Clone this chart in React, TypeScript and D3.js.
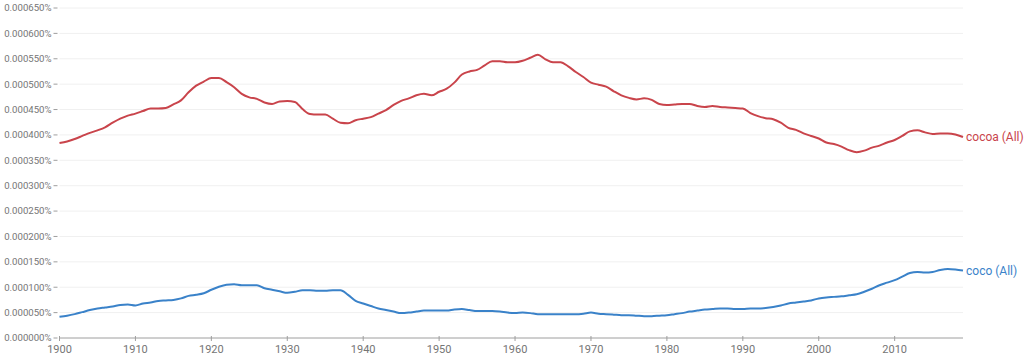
import React from "react";
import * as d3 from "d3";

const years: number[] = d3.range(1900, 2020);

// values in units of 0.000001 %
const cocoa: number[] = [
  384, 387, 392, 398, 404, 409, 415, 424, 432, 438,
  442, 447, 452, 452, 453, 460, 468, 484, 497, 505,
  512, 512, 504, 494, 481, 474, 471, 464, 461, 466,
  467, 465, 451, 441, 440, 440, 432, 424, 423, 429,
  432, 435, 442, 449, 459, 467, 472, 478, 481, 478,
  485, 491, 503, 519, 525, 528, 537, 545, 545, 543,
  543, 546, 552, 558, 549, 543, 543, 535, 524, 514,
  503, 499, 495, 486, 478, 473, 470, 472, 469, 461,
  459, 460, 461, 461, 457, 455, 457, 455, 454, 453,
  452, 443, 437, 433, 431, 424, 414, 410, 403, 398,
  393, 385, 382, 377, 370, 366, 369, 375, 379, 385,
  390, 398, 407, 409, 405, 402, 403, 403, 401, 396,
];

const coco: number[] = [
  42, 44, 47, 51, 55, 58, 60, 62, 65, 66,
  64, 68, 70, 73, 74, 75, 78, 83, 85, 88,
  95, 101, 105, 106, 104, 104, 104, 98, 95, 92,
  89, 91, 94, 94, 93, 93, 94, 94, 85, 73,
  68, 63, 58, 55, 52, 49, 50, 52, 54, 54,
  54, 54, 56, 57, 55, 53, 53, 53, 52, 50,
  49, 50, 49, 47, 47, 47, 47, 47, 47, 48,
  50, 48, 47, 46, 45, 45, 44, 43, 43, 44,
  45, 47, 49, 52, 54, 56, 57, 58, 58, 57,
  57, 58, 58, 59, 61, 64, 68, 70, 72, 74,
  78, 80, 81, 82, 84, 86, 91, 97, 104, 109,
  114, 121, 128, 130, 129, 130, 134, 136, 135, 133,
];

const seriesNames: string[] = ["cocoa (All)", "coco (All)"];
const seriesColors: string[] = ["#c9444b", "#3a82c9"];
const yTicks: number[] = d3.range(0, 651, 50);
const xTicks: number[] = d3.range(1900, 2020, 10);

const W = 1024;
const H = 357;
const left = 59.5;
const right = 963;
const top = 8;
const bottom = 338;

export default function App() {
  const x = d3.scaleLinear().domain([1900, 2019]).range([left, right]);
  const y = d3.scaleLinear().domain([0, 650]).range([bottom, top]);
  const line = d3
    .line<number>()
    .x((_, i) => x(years[i]))
    .y((d) => y(d))
    .curve(d3.curveMonotoneX);
  const series = [cocoa, coco];
  const fmt = (v: number) => (v / 1e6).toFixed(6) + "%";
  const font = "Roboto, 'Noto Sans', sans-serif";
  return (
    <svg
      width={W}
      height={H}
      style={{ position: "absolute", left: 0, top: 0, background: "#fff" }}
      fontFamily={font}
    >
      {yTicks.map((t) => (
        <g key={t}>
          {t > 0 && (
            <line x1={left} x2={right} y1={y(t)} y2={y(t)} stroke="#f0f0f0" strokeWidth={1} />
          )}
          <line x1={left - 6} x2={left - 2} y1={y(t)} y2={y(t)} stroke="#9e9e9e" strokeWidth={1} />
          <text x={left - 8} y={y(t)} dy="0.35em" textAnchor="end" fontSize={9.6} fill="#757575">
            {fmt(t)}
          </text>
        </g>
      ))}
      <line x1={left} x2={right} y1={bottom} y2={bottom} stroke="#9e9e9e" strokeWidth={1} />
      {xTicks.map((t) => (
        <g key={t}>
          <line x1={x(t)} x2={x(t)} y1={bottom - 2} y2={bottom + 3} stroke="#9e9e9e" strokeWidth={1} />
          <text x={x(t)} y={bottom + 15} textAnchor="middle" fontSize={11} fill="#757575">
            {t}
          </text>
        </g>
      ))}
      {series.map((s, i) => (
        <g key={seriesNames[i]}>
          <path d={line(s) || ""} fill="none" stroke={seriesColors[i]} strokeWidth={2} />
          <text
            x={right + 3}
            y={y(s[s.length - 1])}
            dy="0.35em"
            fontSize={12}
            fill={seriesColors[i]}
          >
            {seriesNames[i]}
          </text>
        </g>
      ))}
    </svg>
  );
}
